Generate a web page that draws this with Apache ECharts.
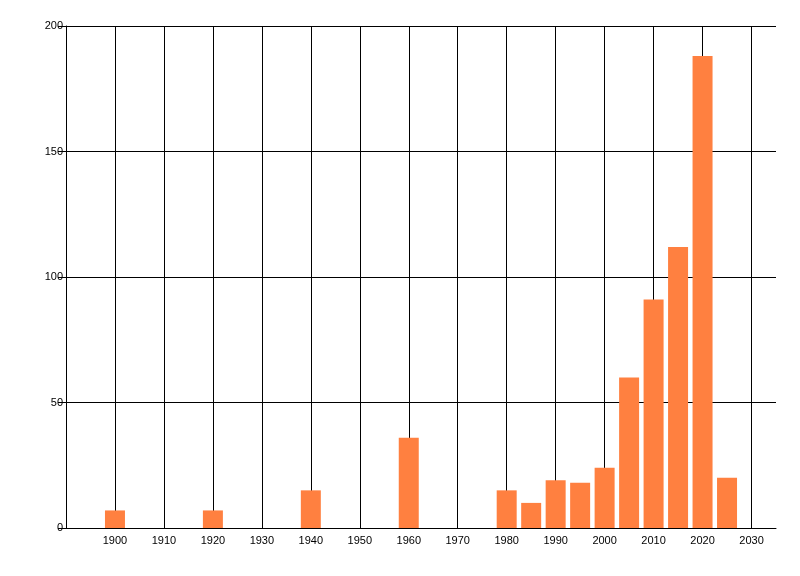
<!DOCTYPE html>
<html>
<head>
<meta charset="utf-8">
<script src="https://cdn.jsdelivr.net/npm/echarts@6/dist/echarts.min.js"></script>
<style>
  html, body { margin: 0; padding: 0; background: #fff; }
  #chart { width: 800px; height: 576px; }
</style>
</head>
<body>
<div id="chart"></div>
<script>
// years (bar centres) and counts
var years = [1900, 1920, 1940, 1960, 1980, 1985, 1990, 1995, 2000, 2005, 2010, 2015, 2020, 2025];
var counts = [7, 7, 15, 36, 15, 10, 19, 18, 24, 60, 91, 112, 188, 20];
var yTicks = [0, 50, 100, 150, 200];

var chart = echarts.init(document.getElementById('chart'));

var pairs = years.map(function (y, i) {
  return [y, counts[i]];
});

var option = {
  animation: false,
  backgroundColor: '#fff',
  textStyle: { fontFamily: 'Liberation Sans, Arial, sans-serif' },
  grid: { left: 66, right: 24, top: 26, bottom: 48 },
  xAxis: {
    type: 'value',
    min: 1890,
    max: 2035,
    interval: 10,
    axisLine: { show: true, onZero: false, lineStyle: { color: '#000', width: 1 } },
    axisTick: { show: false },
    axisLabel: {
      color: '#000',
      fontSize: 11,
      margin: 7,
      showMinLabel: false,
      showMaxLabel: false,
      formatter: function (v) { return String(v); }
    },
    splitLine: {
      show: true,
      showMinLine: false,
      showMaxLine: false,
      lineStyle: { color: '#000', width: 1 }
    }
  },
  yAxis: {
    type: 'value',
    min: yTicks[0],
    max: yTicks[yTicks.length - 1],
    interval: 50,
    axisLine: { show: true, lineStyle: { color: '#000', width: 1 } },
    axisTick: { show: true, length: 8, lineStyle: { color: '#000' } },
    axisLabel: { color: '#000', fontSize: 11, margin: 3 },
    splitLine: { show: true, lineStyle: { color: '#000', width: 1 } }
  },
  series: [{
    type: 'bar',
    data: pairs,
    barWidth: 20,
    itemStyle: { color: '#ff8040' }
  }]
};

chart.setOption(option);
</script>
</body>
</html>
